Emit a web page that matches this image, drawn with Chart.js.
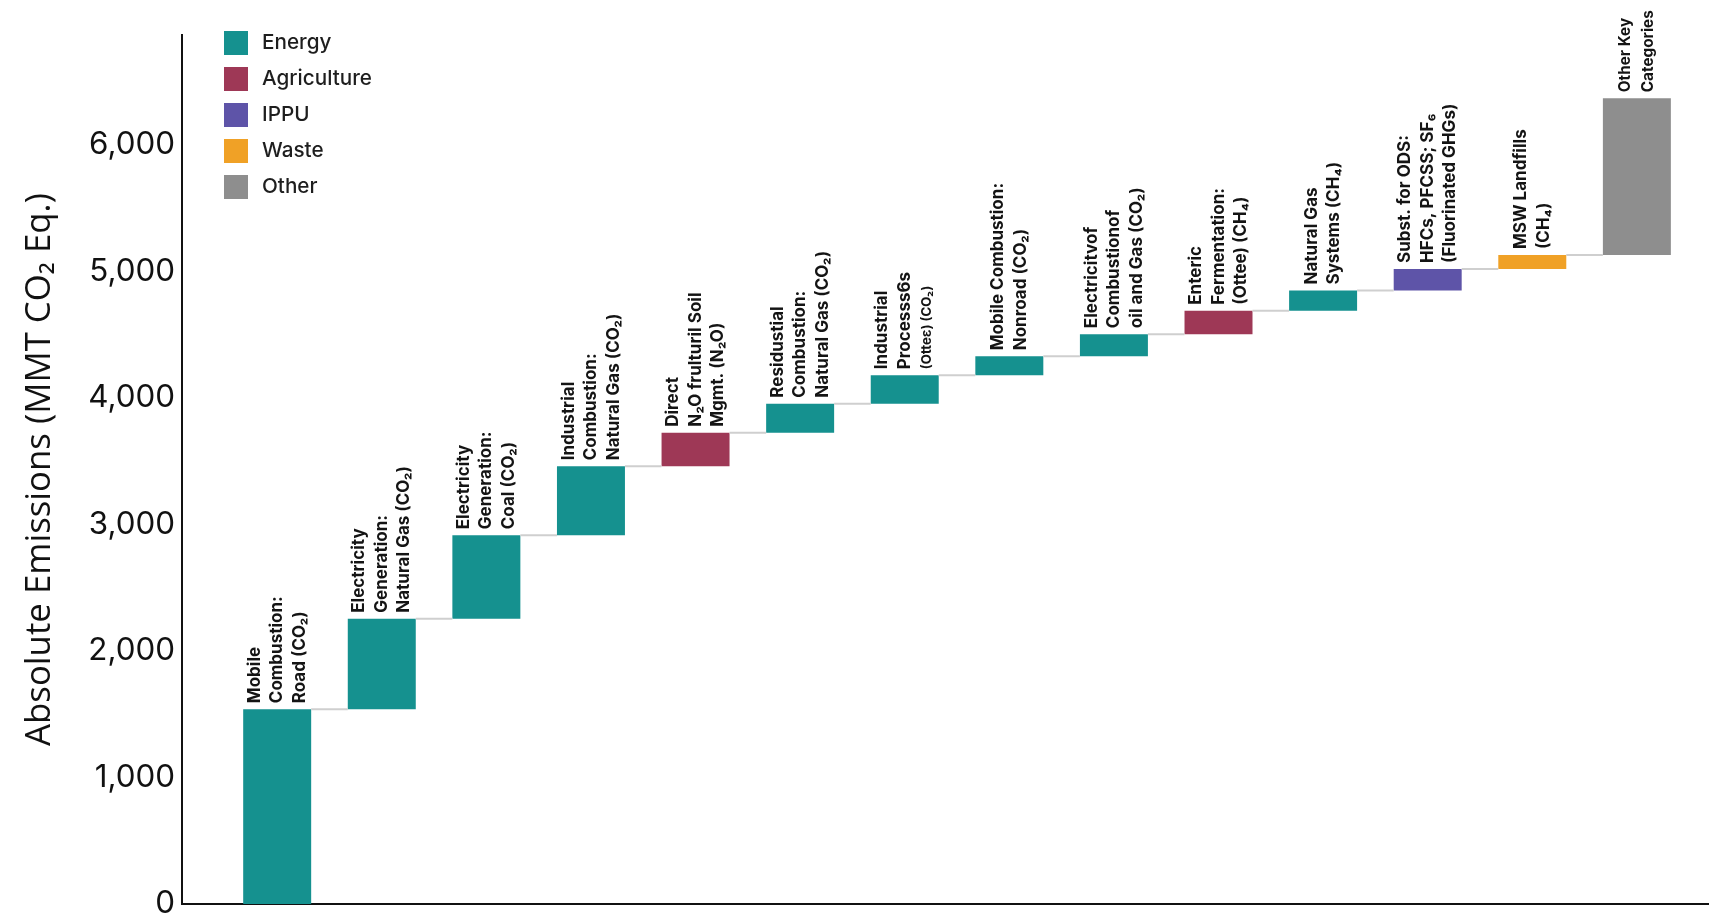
<!DOCTYPE html>
<html>
<head>
    <title>Key Categories - Absolute Emissions</title>
    <script src="https://cdn.jsdelivr.net/npm/chart.js"></script>
    <style>
        html, body { margin: 0; padding: 0; background: #ffffff; }
        #wrap { width: 1716px; height: 916px; position: relative; }
    </style>
</head>
<body>
    <div id="wrap"><canvas id="keyChart"></canvas></div>

    <script>
        // category labels, one entry per line of the rotated label
        const categories = [
            ["Mobile", "Combustion:", "Road (CO₂)"],
            ["Electricity", "Generation:", "Natural Gas (CO₂)"],
            ["Electricity", "Generation:", "Coal (CO₂)"],
            ["Industrial", "Combustion:", "Natural Gas (CO₂)"],
            ["Direct", "N₂O frulturil Soil", "Mgmt. (N₂O)"],
            ["Residustial", "Combustion:", "Natural Gas (CO₂)"],
            ["Industrial", "Processs6s", "(Otteɛ) (CO₂)"],
            ["Mobile Combustion:", "Nonroad (CO₂)"],
            ["Electricitvof", "Combustionof", "oil and Gas (CO₂)"],
            ["Enteric", "Fermentation:", "(Ottee) (CH₄)"],
            ["Natural Gas", "Systems (CH₄)"],
            ["Subst. for ODS:", "HFCs, PFCSS; SF₆", "(Fluorinated GHGs)"],
            ["MSW Landfills", "(CH₄)"],
            ["Other Key", "Categories"]
        ];
        // emissions per category (MMT CO2 Eq.)
        const emissions = [1540, 715, 660, 545, 265, 230, 225, 150, 175, 185, 160, 170, 110, 1240];
        const sectors = ["Energy", "Energy", "Energy", "Energy", "Agriculture", "Energy", "Energy",
                         "Energy", "Energy", "Agriculture", "Energy", "IPPU", "Waste", "Other"];

        const sectorNames = ["Energy", "Agriculture", "IPPU", "Waste", "Other"];
        const sectorColors = ["#15918f", "#9e3856", "#5e54a8", "#f0a126", "#8e8e8e"];
        const yTicks = [0, 1000, 2000, 3000, 4000, 5000, 6000];

        // running total -> floating bars
        let running = 0;
        const floating = emissions.map((v, i) => {
            const bar = { x: i, y: [running, running + v] };
            running += v;
            return bar;
        });
        const barColors = sectors.map(s => sectorColors[sectorNames.indexOf(s)]);

        const FONT = 'Inter, "Open Sans", "DejaVu Sans", sans-serif';

        // pick a font size so a sample string comes out at the wanted width
        const measureCtx = document.createElement('canvas').getContext('2d');
        function fitSize(sample, weight, family, width) {
            measureCtx.font = weight + ' 20px ' + family;
            return 20 * width / measureCtx.measureText(sample).width;
        }
        const labelSize = fitSize('Combustion:', '700', FONT, 107);
        const legendSize = fitSize('Agriculture', '500', FONT, 110);
        const tickSize = fitSize('6,000', '400', FONT, 86);
        const titleSize = fitSize('Absolute Emissions (MMT CO₂ Eq.)', '400', '"Open Sans", sans-serif', 553);

        // label size tweaks: smaller lines, and the last label which sits near the top
        const smallLines = { 6: [2] };
        const labelScale = { 13: 0.9 };

        const stepsPlugin = {
            id: 'steps',
            afterDatasetsDraw(chart) {
                const ctx = chart.ctx;
                const bars = chart.getDatasetMeta(0).data;
                ctx.save();
                ctx.strokeStyle = '#cfcfcf';
                ctx.lineWidth = 2;
                for (let i = 0; i < bars.length - 1; i++) {
                    const a = bars[i], b = bars[i + 1];
                    ctx.beginPath();
                    ctx.moveTo(a.x + a.width / 2, a.y);
                    ctx.lineTo(b.x - b.width / 2, a.y);
                    ctx.stroke();
                }

                // rotated labels above each bar
                ctx.fillStyle = '#141414';
                ctx.textAlign = 'left';
                ctx.textBaseline = 'middle';
                const lineH = 22.5;
                bars.forEach((bar, i) => {
                    const lines = categories[i];
                    const size = labelSize * (labelScale[i] || 1);
                    ctx.save();
                    ctx.translate(bar.x, bar.y - 6);
                    ctx.rotate(-Math.PI / 2);
                    lines.forEach((txt, j) => {
                        const small = smallLines[i] && smallLines[i].includes(j);
                        ctx.font = '700 ' + (small ? size * 0.78 : size) + 'px ' + FONT;
                        ctx.fillText(txt, 0, (j - (lines.length - 1) / 2) * lineH);
                    });
                    ctx.restore();
                });

                // legend
                const left = chart.chartArea.left + 42;
                const top = chart.chartArea.top - 4;
                ctx.font = '500 ' + legendSize + 'px ' + FONT;
                sectorNames.forEach((name, k) => {
                    const y = top + k * 36;
                    ctx.fillStyle = sectorColors[k];
                    ctx.fillRect(left, y, 24, 24);
                    ctx.fillStyle = '#1e1e1e';
                    ctx.fillText(name, left + 38, y + 12);
                });
                ctx.restore();
            }
        };

        const ctx = document.getElementById('keyChart').getContext('2d');
        const keyChart = new Chart(ctx, {
            type: 'bar',
            data: {
                datasets: [{
                    data: floating,
                    backgroundColor: barColors,
                    borderWidth: 0,
                    barPercentage: 0.65,
                    categoryPercentage: 1
                }]
            },
            options: {
                responsive: true,
                maintainAspectRatio: false,
                animation: false,
                layout: { padding: { top: 35, right: 8, left: 0, bottom: 0 } },
                plugins: {
                    legend: { display: false },
                    tooltip: { enabled: false }
                },
                scales: {
                    x: {
                        type: 'linear',
                        offset: false,
                        min: -0.91,
                        max: 13.68,
                        afterBuildTicks(scale) {
                            scale.ticks = categories.map((c, i) => ({ value: i }));
                        },
                        ticks: { display: false },
                        grid: { display: false, drawTicks: false, offset: false },
                        border: { display: true, color: '#111', width: 2 },
                        afterFit(scale) {
                            scale.height = 12;
                            scale.paddingLeft = 0;
                            scale.paddingRight = 0;
                        }
                    },
                    y: {
                        min: 0,
                        max: 6870,
                        afterBuildTicks(scale) {
                            scale.ticks = yTicks.map(v => ({ value: v }));
                        },
                        ticks: {
                            padding: 7,
                            color: '#111',
                            font: { family: FONT, size: tickSize },
                            callback: v => v.toLocaleString('en-US')
                        },
                        grid: { display: false, drawTicks: false },
                        border: { display: true, color: '#111', width: 2 },
                        title: {
                            display: true,
                            text: 'Absolute Emissions (MMT CO₂ Eq.)',
                            color: '#111',
                            font: { family: '"Open Sans", sans-serif', size: titleSize },
                            padding: { top: 40 - titleSize * 0.6, bottom: 0 }
                        },
                        afterFit(scale) {
                            scale.width = 182;
                            scale.paddingTop = 0;
                            scale.paddingBottom = 0;
                        }
                    }
                }
            },
            plugins: [stepsPlugin]
        });
    </script>
</body>
</html>
